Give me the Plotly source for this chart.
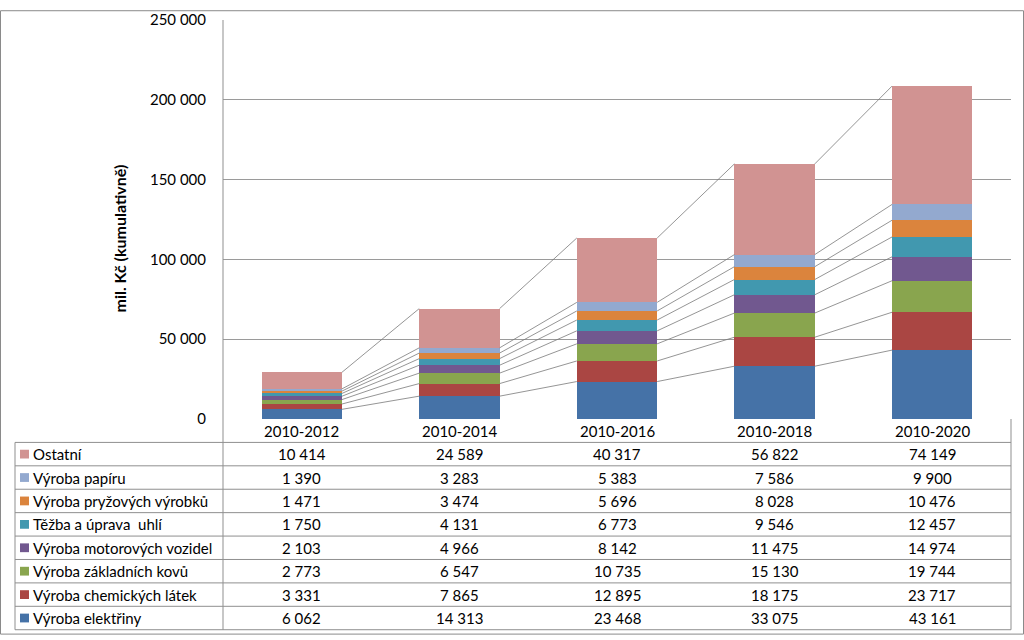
import plotly.graph_objects as go

categories = ["2010-2012", "2010-2014", "2010-2016", "2010-2018", "2010-2020"]

# stacking order, bottom to top
series_names = [
    "Výroba elektřiny",
    "Výroba chemických látek",
    "Výroba základních kovů",
    "Výroba motorových vozidel",
    "Těžba a úprava  uhlí",
    "Výroba pryžových výrobků",
    "Výroba papíru",
    "Ostatní",
]
vyroba_elektriny = [6062, 14313, 23468, 33075, 43161]
vyroba_chemickych_latek = [3331, 7865, 12895, 18175, 23717]
vyroba_zakladnich_kovu = [2773, 6547, 10735, 15130, 19744]
vyroba_motorovych_vozidel = [2103, 4966, 8142, 11475, 14974]
tezba_a_uprava_uhli = [1750, 4131, 6773, 9546, 12457]
vyroba_pryzovych_vyrobku = [1471, 3474, 5696, 8028, 10476]
vyroba_papiru = [1390, 3283, 5383, 7586, 9900]
ostatni = [10414, 24589, 40317, 56822, 74149]

series_values = [
    vyroba_elektriny,
    vyroba_chemickych_latek,
    vyroba_zakladnich_kovu,
    vyroba_motorovych_vozidel,
    tezba_a_uprava_uhli,
    vyroba_pryzovych_vyrobku,
    vyroba_papiru,
    ostatni,
]
series_colors = ["#4572A7", "#AA4643", "#89A54E", "#71588F",
                 "#4198AF", "#DB843D", "#93A9CF", "#D19392"]

y_tick_values = [0, 50000, 100000, 150000, 200000, 250000]
y_tick_labels = ["0", "50 000", "100 000", "150 000", "200 000", "250 000"]
y_title = "mil. Kč (kumulativně)"

# ---- geometry (pixels) ----
W, H = 1024, 640
PL, PR, PT, PB = 223, 1011, 10, 419   # plot area
ROW0 = 443       # top of first data row
ROWH = 24        # row height
TL = 15          # left edge of table
FONT = "Lato, Carlito, Calibri, sans-serif"
FS = 15
BAR_W = 0.51
LINE_C = "#8f8f8f"


def px_x(px):
    return (px - PL) / (PR - PL)


def px_y(py):
    return (PB - py) / (PB - PT)


def fmt(v):
    return f"{v:,}".replace(",", " ")


fig = go.Figure()
xs = list(range(len(categories)))

for name, vals, col in zip(series_names, series_values, series_colors):
    fig.add_trace(go.Bar(x=xs, y=vals, name=name, marker=dict(color=col, line=dict(width=0)),
                         width=BAR_W, showlegend=False, hoverinfo="name+y"))

# series lines connecting stack tops between bars
cum = [0] * len(categories)
for vals in series_values:
    cum = [c + v for c, v in zip(cum, vals)]
    lx, ly = [], []
    for i in range(len(categories) - 1):
        lx += [i + BAR_W / 2, i + 1 - BAR_W / 2, None]
        ly += [cum[i], cum[i + 1], None]
    fig.add_trace(go.Scatter(x=lx, y=ly, mode="lines", line=dict(color="#7a7a7a", width=0.8),
                             showlegend=False, hoverinfo="skip"))

shapes = []
annotations = []

# table horizontal lines
n_rows = len(series_names)
for r in range(n_rows + 1):
    yy = px_y(ROW0 + r * ROWH)
    shapes.append(dict(type="line", xref="paper", yref="paper", x0=px_x(TL), x1=1,
                       y0=yy, y1=yy, line=dict(color=LINE_C, width=1)))
# vertical lines
shapes.append(dict(type="line", xref="paper", yref="paper", x0=px_x(TL), x1=px_x(TL),
                   y0=px_y(ROW0), y1=px_y(ROW0 + n_rows * ROWH), line=dict(color=LINE_C, width=1)))
shapes.append(dict(type="line", xref="paper", yref="paper", x0=0, x1=0,
                   y0=1, y1=px_y(ROW0 + n_rows * ROWH), line=dict(color=LINE_C, width=1)))
shapes.append(dict(type="line", xref="paper", yref="paper", x0=1, x1=1,
                   y0=0, y1=px_y(ROW0 + n_rows * ROWH), line=dict(color=LINE_C, width=1)))
# outer chart border
shapes.append(dict(type="rect", xref="paper", yref="paper", x0=px_x(0.5), x1=px_x(W - 0.5),
                   y0=px_y(0.5), y1=px_y(H - 0.5), line=dict(color="#8a8a8a", width=1)))

# header labels
for i, c in enumerate(categories):
    annotations.append(dict(x=i, xref="x", y=px_y((PB + ROW0) / 2), yref="paper", text=c,
                            showarrow=False, font=dict(family=FONT, size=FS, color="black"),
                            xanchor="center", yanchor="middle"))

# rows (top to bottom: reverse of stacking order)
for r, k in enumerate(reversed(range(len(series_names)))):
    yc = ROW0 + r * ROWH + ROWH / 2
    shapes.append(dict(type="rect", xref="paper", yref="paper", x0=px_x(20), x1=px_x(29),
                       y0=px_y(yc - 4.5), y1=px_y(yc + 4.5),
                       fillcolor=series_colors[k], line=dict(width=0)))
    annotations.append(dict(x=px_x(31), xref="paper", y=px_y(yc), yref="paper",
                            text=series_names[k], showarrow=False, xanchor="left", yanchor="middle",
                            font=dict(family=FONT, size=FS, color="black")))
    for i, v in enumerate(series_values[k]):
        annotations.append(dict(x=i, xref="x", y=px_y(yc), yref="paper", text=fmt(v),
                                showarrow=False, xanchor="center", yanchor="middle",
                                font=dict(family=FONT, size=FS, color="black")))

# y axis title
annotations.append(dict(x=px_x(120), xref="paper", y=px_y(234), yref="paper", text=y_title,
                        textangle=-90, showarrow=False, xanchor="center", yanchor="middle",
                        font=dict(family=FONT, size=16, color="black", weight="bold")))

fig.update_layout(
    width=W, height=H,
    margin=dict(l=PL, r=W - PR, t=PT, b=H - PB, pad=0),
    barmode="stack",
    paper_bgcolor="white", plot_bgcolor="white",
    font=dict(family=FONT, size=FS, color="black"),
    shapes=shapes, annotations=annotations,
    xaxis=dict(range=[-0.5, len(categories) - 0.5], showticklabels=False, showgrid=False,
               zeroline=False, showline=False, fixedrange=True),
    yaxis=dict(range=[0, 250000], tickvals=y_tick_values, ticktext=y_tick_labels,
               showgrid=True, gridcolor="#9a9a9a", gridwidth=1, zeroline=False,
               showline=False, ticks="", ticklabelstandoff=16,
               tickfont=dict(family=FONT, size=FS, color="black"), fixedrange=True),
)

fig.write_html("out.html", config={"displayModeBar": False},
               post_script="document.body.style.margin='0';document.body.style.overflow='hidden';")
